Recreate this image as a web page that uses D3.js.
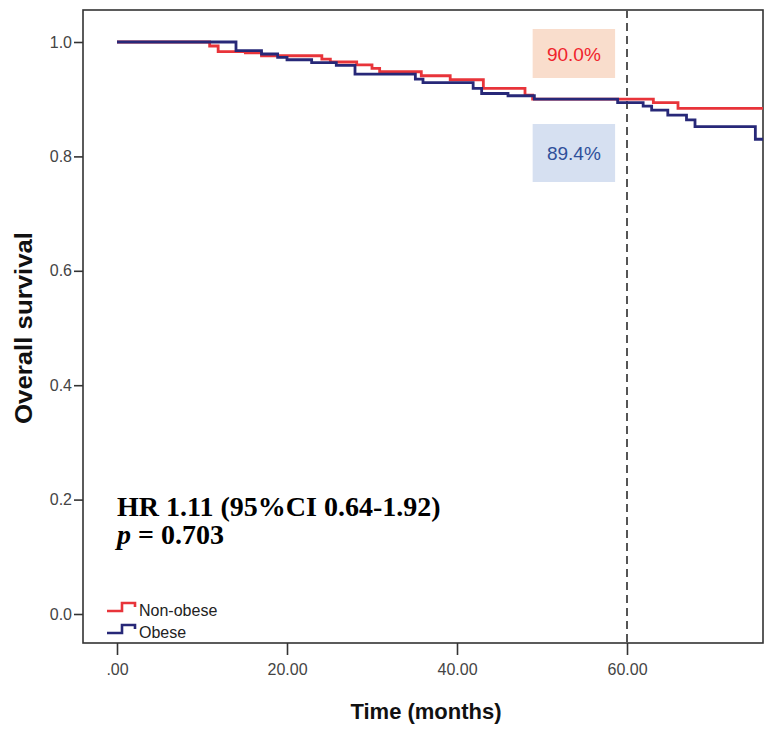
<!DOCTYPE html>
<html>
<head>
<meta charset="utf-8">
<script src="https://cdn.jsdelivr.net/npm/d3@7"></script>
<style>
  html, body { margin: 0; padding: 0; background: #fff; }
  svg { display: block; }
</style>
</head>
<body>
<svg id="chart" width="784" height="733"></svg>
<script>
// ---- data ----
const groups = ["Non-obese", "Obese"];
const redTimes = [0, 10.9, 11.9, 15.1, 17.0, 24.1, 25.1, 28.2, 30.0, 30.9, 35.8, 39.2, 43.1, 48.0, 48.9, 63.1, 66.0, 76];
const redSurv  = [1.0, 0.993, 0.983, 0.981, 0.976, 0.970, 0.965, 0.960, 0.954, 0.948, 0.941, 0.934, 0.919, 0.907, 0.900, 0.894, 0.884, 0.884];
const blueTimes = [0, 14.0, 17.0, 18.9, 20.0, 22.9, 25.8, 28.0, 35.1, 36.0, 41.9, 42.9, 46.0, 49.1, 58.9, 61.9, 62.9, 64.8, 67.0, 68.0, 75.1, 76];
const blueSurv  = [1.0, 0.985, 0.979, 0.973, 0.969, 0.964, 0.959, 0.944, 0.935, 0.929, 0.919, 0.910, 0.906, 0.900, 0.894, 0.888, 0.881, 0.872, 0.864, 0.852, 0.830, 0.830];
const xTicks = [0, 20, 40, 60];
const xTickLabels = [".00", "20.00", "40.00", "60.00"];
const yTicks = [0, 0.2, 0.4, 0.6, 0.8, 1.0];
const yTickLabels = ["0.0", "0.2", "0.4", "0.6", "0.8", "1.0"];
const markTime = 60;
const rateLabels = ["90.0%", "89.4%"];
const hrText = "HR 1.11 (95%CI 0.64-1.92)";
const pText = "= 0.703";

// ---- layout ----
const svg = d3.select("#chart");
const frame = { left: 83, top: 10, right: 763, bottom: 643 };
const x = d3.scaleLinear().domain([0, 76]).range([117, 763]);
const y = d3.scaleLinear().domain([0, 1]).range([614, 42]);
const colors = { red: "#e8343a", blue: "#272878" };

// frame
svg.append("rect")
  .attr("x", frame.left).attr("y", frame.top)
  .attr("width", frame.right - frame.left).attr("height", frame.bottom - frame.top)
  .attr("fill", "none").attr("stroke", "#333").attr("stroke-width", 1.6);

// y axis
const yAxis = svg.append("g")
  .attr("transform", `translate(${frame.left},0)`)
  .call(d3.axisLeft(y).tickValues(yTicks).tickSize(9).tickSizeOuter(0)
    .tickFormat((d, i) => yTickLabels[i]));
yAxis.select(".domain").remove();
yAxis.selectAll(".tick line").attr("stroke", "#333").attr("stroke-width", 1.6);
yAxis.selectAll(".tick text").attr("font-family", "Arial, 'Liberation Sans', sans-serif")
  .attr("font-size", 16).attr("fill", "#444").attr("x", -11);

// x axis
const xAxis = svg.append("g")
  .attr("transform", `translate(0,${frame.bottom})`)
  .call(d3.axisBottom(x).tickValues(xTicks).tickSize(12).tickSizeOuter(0)
    .tickFormat((d, i) => xTickLabels[i]));
xAxis.select(".domain").remove();
xAxis.selectAll(".tick line").attr("stroke", "#333").attr("stroke-width", 1.6);
xAxis.selectAll(".tick text").attr("font-family", "Arial, 'Liberation Sans', sans-serif")
  .attr("font-size", 16).attr("fill", "#444").attr("y", 21);

// axis titles
svg.append("text")
  .attr("transform", `translate(32,${(y(0.6) + y(0.4)) / 2}) rotate(-90)`)
  .attr("text-anchor", "middle")
  .attr("font-family", "Arial, 'Liberation Sans', sans-serif")
  .attr("font-weight", "bold").attr("font-size", 24).attr("fill", "#111")
  .attr("textLength", 192).attr("lengthAdjust", "spacingAndGlyphs")
  .text("Overall survival");
svg.append("text")
  .attr("x", 426).attr("y", 719)
  .attr("text-anchor", "middle")
  .attr("font-family", "Arial, 'Liberation Sans', sans-serif")
  .attr("font-weight", "bold").attr("font-size", 22).attr("fill", "#111")
  .text("Time (months)");

// dashed marker at 60 months
svg.append("line")
  .attr("x1", x(markTime)).attr("x2", x(markTime))
  .attr("y1", frame.top).attr("y2", frame.bottom)
  .attr("stroke", "#555").attr("stroke-width", 2).attr("stroke-dasharray", "8,5");

// rate label boxes
const boxes = [
  { label: rateLabels[0], fill: "#f9ddcc", color: "#f0232b", y0: 29, y1: 78 },
  { label: rateLabels[1], fill: "#d6e0f1", color: "#2f4f9a", y0: 124, y1: 182 }
];
boxes.forEach(b => {
  const bx0 = x(48.9), bx1 = x(58.6);
  svg.append("rect").attr("x", bx0).attr("y", b.y0)
    .attr("width", bx1 - bx0).attr("height", b.y1 - b.y0).attr("fill", b.fill);
  svg.append("text").attr("x", (bx0 + bx1) / 2).attr("y", (b.y0 + b.y1) / 2 + 7)
    .attr("text-anchor", "middle")
    .attr("font-family", "Arial, 'Liberation Sans', sans-serif")
    .attr("font-size", 19).attr("fill", b.color).text(b.label);
});

// survival curves
const line = d3.line().x(d => x(d[0])).y(d => y(d[1])).curve(d3.curveStepAfter);
const redData = redTimes.map((t, i) => [t, redSurv[i]]);
const blueData = blueTimes.map((t, i) => [t, blueSurv[i]]);
svg.append("path").attr("d", line(redData)).attr("fill", "none")
  .attr("stroke", colors.red).attr("stroke-width", 2.8);
svg.append("path").attr("d", line(blueData)).attr("fill", "none")
  .attr("stroke", colors.blue).attr("stroke-width", 2.8);

// HR text
svg.append("text").attr("x", 117).attr("y", 516)
  .attr("font-family", "'Liberation Serif', 'Times New Roman', serif")
  .attr("font-weight", "bold").attr("font-size", 28).attr("fill", "#000")
  .text(hrText);
const pt = svg.append("text").attr("x", 117).attr("y", 544)
  .attr("font-family", "'Liberation Serif', 'Times New Roman', serif")
  .attr("font-weight", "bold").attr("font-size", 28).attr("fill", "#000");
pt.append("tspan").attr("font-style", "italic").text("p");
pt.append("tspan").text(" " + pText);

// legend
const legendItems = [
  { name: groups[0], color: colors.red, yb: 611 },
  { name: groups[1], color: colors.blue, yb: 633 }
];
legendItems.forEach(l => {
  svg.append("path")
    .attr("d", `M107,${l.yb} H122 V${l.yb - 8} H135 V${l.yb - 4}`)
    .attr("fill", "none").attr("stroke", l.color).attr("stroke-width", 2.6);
  svg.append("text").attr("x", 139).attr("y", l.yb + 5)
    .attr("font-family", "Arial, 'Liberation Sans', sans-serif")
    .attr("font-size", 16).attr("fill", "#222").text(l.name);
});
</script>
</body>
</html>
